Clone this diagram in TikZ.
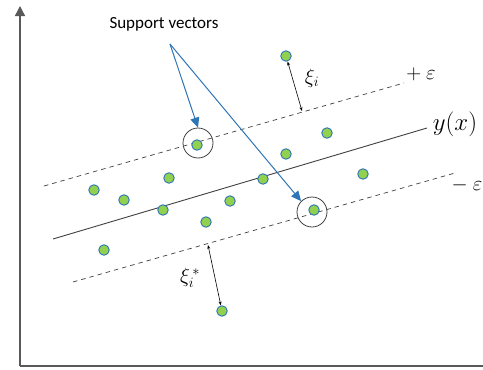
\documentclass[tikz,border=0pt]{standalone}
\usepackage{fontspec}
\setmainfont{Carlito}
\usetikzlibrary{arrows.meta}
\definecolor{ptgreen}{RGB}{146,208,80}
\definecolor{ptblue}{RGB}{46,117,182}
\definecolor{axgray}{RGB}{89,89,89}
\definecolor{lngray}{RGB}{64,64,64}
\tikzset{
  pt/.style={circle,fill=ptgreen,draw=ptblue,line width=0.9pt,minimum size=10.5pt,inner sep=0pt},
  svring/.style={circle,draw=lngray,line width=0.8pt,minimum size=30pt,inner sep=0pt},
  margin/.style={draw=lngray,line width=0.7pt,dash pattern=on 4.5pt off 4pt},
  mid/.style={draw=lngray,line width=0.9pt},
  axis/.style={draw=axgray,line width=1.4pt},
  blueptr/.style={draw=ptblue,line width=1pt,-{Triangle[length=10pt,width=9pt]}},
  slack/.style={draw=black,line width=0.6pt,{Stealth[length=4pt,width=3pt]}-{Stealth[length=4pt,width=3pt]}},
  lbl/.style={inner sep=0pt}
}
\begin{document}
\begin{tikzpicture}[x=1pt,y=-1pt]
\useasboundingbox (0,0) rectangle (483,370);
% axes
\coordinate (o) at (20,366);
\coordinate (ytop) at (20,6);
\coordinate (xend) at (496,366);
\draw[axis,-{Triangle[length=10pt,width=10pt]}] (o) -- (ytop);
\draw[axis,-{Triangle[length=10pt,width=10pt]}] (o) -- (xend);
% margin lines
\coordinate (u1) at (44,186);
\coordinate (u2) at (404,83);
\coordinate (l1) at (73,282);
\coordinate (l2) at (455,173);
\coordinate (m1) at (53,239);
\coordinate (m2) at (427,128);
\draw[margin] (u1) -- (u2);
\draw[margin] (l1) -- (l2);
\draw[mid] (m1) -- (m2);
% support vector rings
\node[svring] (c1) at (198,143) {};
\node[svring] (c2) at (312,212) {};
% points
\node[pt] (p1) at (286,56) {};
\node[pt] (p2) at (197,145) {};
\node[pt] (p3) at (327,133) {};
\node[pt] (p4) at (286,154) {};
\node[pt] (p5) at (169,178) {};
\node[pt] (p6) at (263,179) {};
\node[pt] (p7) at (363,174) {};
\node[pt] (p8) at (94,190) {};
\node[pt] (p9) at (124,200) {};
\node[pt] (p10) at (163,210) {};
\node[pt] (p11) at (230,201) {};
\node[pt] (p12) at (206,222) {};
\node[pt] (p13) at (314,210) {};
\node[pt] (p14) at (104,250) {};
\node[pt] (p15) at (222,311) {};
% label and pointers
\node[lbl,font=\fontsize{17}{19}\selectfont] (sv) at (164,24) {Support vectors};
\coordinate (s) at (170,44);
\draw[blueptr] (s) -- (c1.north);
\draw[blueptr] (s) -- (c2.north west);
% slack arrows
\coordinate (q1) at (302,111);
\coordinate (q2) at (208,245);
\draw[slack] (p1) -- (q1);
\draw[slack] (q2) -- (p15);
\node[lbl,font=\fontsize{21}{23}\selectfont] (xi) at (312,78) {$\xi_i$};
\node[lbl,font=\fontsize{21}{23}\selectfont] (xis) at (190,278) {$\xi_i^{\,*}$};
\node[lbl,font=\fontsize{22}{24}\selectfont] (pe) at (421,74) {$+\ \varepsilon$};
\node[lbl,font=\fontsize{22}{24}\selectfont] (me) at (467,185) {$-\ \varepsilon$};
\node[lbl,font=\fontsize{23}{25}\selectfont] (yx) at (455,124) {$y(x)$};
\end{tikzpicture}
\end{document}
